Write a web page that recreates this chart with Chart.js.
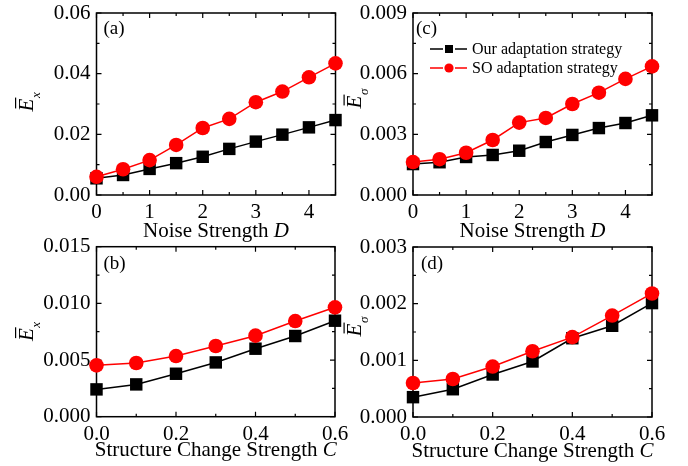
<!DOCTYPE html>
<html>
<head>
<meta charset="utf-8">
<title>Adaptation error vs. noise and structure change</title>
<script src="https://cdn.jsdelivr.net/npm/chart.js@4/dist/chart.umd.min.js"></script>
<style>
  body { margin: 0; background: #fff; }
  #figure { position: relative; width: 688px; height: 466px; overflow: hidden; background: #fff; }
  #figure canvas { position: absolute; }
</style>
</head>
<body>
<div id="figure">
  <canvas id="panelA"></canvas>
  <canvas id="panelC"></canvas>
  <canvas id="panelB"></canvas>
  <canvas id="panelD"></canvas>
</div>
<script>
const SERIF = '"Liberation Serif", "Times New Roman", serif';

// x values
const noiseD = [0, 0.5, 1, 1.5, 2, 2.5, 3, 3.5, 4, 4.5];
const changeC = [0, 0.1, 0.2, 0.3, 0.4, 0.5, 0.6];

// mean error E_x and E_sigma vs noise strength D
const exOursD = [0.0055, 0.0066, 0.0086, 0.0105, 0.0126, 0.0152, 0.0176, 0.0199, 0.0223, 0.0247];
const exSoD   = [0.0060, 0.0085, 0.0115, 0.0165, 0.0221, 0.0251, 0.0306, 0.0341, 0.0388, 0.0434];
const esOursD = [0.00153, 0.00162, 0.00188, 0.00198, 0.00219, 0.00262, 0.00297, 0.00331, 0.00356, 0.00394];
const esSoD   = [0.00163, 0.00177, 0.00209, 0.00272, 0.00358, 0.00381, 0.00450, 0.00506, 0.00574, 0.00636];

// mean error E_x and E_sigma vs structure change strength C
const exOursC = [0.00241, 0.00285, 0.00379, 0.00479, 0.00600, 0.00712, 0.00847];
const exSoC   = [0.00453, 0.00474, 0.00535, 0.00624, 0.00715, 0.00844, 0.00965];
const esOursC = [0.00035, 0.00049, 0.00075, 0.00098, 0.00139, 0.00161, 0.00201];
const esSoC   = [0.00060, 0.00067, 0.00089, 0.00116, 0.00141, 0.00179, 0.00218];

// tick values and their labels
const noiseTicks = [0, 1, 2, 3, 4];
const noiseTickLabels = ['0', '1', '2', '3', '4'];
const changeTicks = [0, 0.2, 0.4, 0.6];
const changeTickLabels = ['0.0', '0.2', '0.4', '0.6'];
const exTicksD = [0, 0.02, 0.04, 0.06];
const exTickLabelsD = ['0.00', '0.02', '0.04', '0.06'];
const esTicksD = [0, 0.003, 0.006, 0.009];
const esTickLabelsD = ['0.000', '0.003', '0.006', '0.009'];
const exTicksC = [0, 0.005, 0.010, 0.015];
const exTickLabelsC = ['0.000', '0.005', '0.010', '0.015'];
const esTicksC = [0, 0.001, 0.002, 0.003];
const esTickLabelsC = ['0.000', '0.001', '0.002', '0.003'];

const seriesNames = ['Our adaptation strategy', 'SO adaptation strategy'];
const seriesColors = ['#000000', '#ff0000'];

// minor ticks sit halfway between majors (and one past the last major if it fits)
function minorTicks(majors, max) {
  const out = [];
  for (let i = 0; i < majors.length; i++) {
    const step = i < majors.length - 1 ? majors[i + 1] - majors[i] : majors[i] - majors[i - 1];
    const m = majors[i] + step / 2;
    if (m <= max + 1e-12) out.push(m);
  }
  return out;
}

function drawFrame(chart, opts) {
  const { ctx, chartArea: a } = chart;
  const xs = chart.scales.x, ys = chart.scales.y;
  ctx.save();
  ctx.strokeStyle = '#000';
  ctx.lineWidth = 1.5;
  ctx.strokeRect(a.left, a.top, a.right - a.left, a.bottom - a.top);
  ctx.lineWidth = 1.2;
  ctx.beginPath();
  const tickX = (v, len) => {
    const px = xs.getPixelForValue(v);
    ctx.moveTo(px, a.bottom); ctx.lineTo(px, a.bottom - len);
    ctx.moveTo(px, a.top); ctx.lineTo(px, a.top + len);
  };
  const tickY = (v, len) => {
    const py = ys.getPixelForValue(v);
    ctx.moveTo(a.left, py); ctx.lineTo(a.left + len, py);
    ctx.moveTo(a.right, py); ctx.lineTo(a.right - len, py);
  };
  opts.xTicks.forEach(v => tickX(v, 5));
  minorTicks(opts.xTicks, opts.xMax).forEach(v => tickX(v, 3));
  opts.yTicks.forEach(v => tickY(v, 5));
  minorTicks(opts.yTicks, opts.yMax).forEach(v => tickY(v, 3));
  ctx.stroke();
  ctx.restore();
}

// italic E with an overbar and a subscript, rotated along the y axis
function drawYTitle(ctx, cx, cy, sub) {
  ctx.save();
  ctx.translate(cx, cy);
  ctx.rotate(-Math.PI / 2);
  ctx.fillStyle = '#000';
  ctx.textBaseline = 'alphabetic';
  ctx.textAlign = 'left';
  ctx.font = 'italic 21px ' + SERIF;
  const eW = ctx.measureText('E').width;
  const x0 = -eW / 2 - 1;
  ctx.fillText('E', x0, 0);
  ctx.fillRect(x0 + 3, -17.5, eW - 2, 1.2);
  ctx.font = 'italic 13px ' + SERIF;
  ctx.fillText(sub, x0 + eW + 0.5, 7);
  ctx.restore();
}

function drawXTitle(ctx, cx, baseline, word, symbol) {
  ctx.save();
  ctx.fillStyle = '#000';
  ctx.textBaseline = 'alphabetic';
  ctx.textAlign = 'left';
  ctx.font = '21px ' + SERIF;
  const w1 = ctx.measureText(word).width;
  ctx.font = 'italic 21px ' + SERIF;
  const w2 = ctx.measureText(symbol).width;
  const x0 = cx - (w1 + w2) / 2;
  ctx.font = '21px ' + SERIF;
  ctx.fillText(word, x0, baseline);
  ctx.font = 'italic 21px ' + SERIF;
  ctx.fillText(symbol, x0 + w1, baseline);
  ctx.restore();
}

function drawLegend(ctx, left, top) {
  ctx.save();
  ctx.font = '16px ' + SERIF;
  ctx.textBaseline = 'middle';
  ctx.textAlign = 'left';
  seriesNames.forEach((name, i) => {
    const y = top + i * 19;
    const c = seriesColors[i];
    ctx.strokeStyle = c;
    ctx.fillStyle = c;
    ctx.lineWidth = 1.5;
    ctx.beginPath();
    ctx.moveTo(left, y); ctx.lineTo(left + 13, y);
    ctx.moveTo(left + 25, y); ctx.lineTo(left + 37, y);
    ctx.stroke();
    if (i === 0) {
      ctx.fillRect(left + 15, y - 4, 8, 8);
    } else {
      ctx.beginPath();
      ctx.arc(left + 19, y, 4.6, 0, Math.PI * 2);
      ctx.fill();
    }
    ctx.fillStyle = '#000';
    ctx.fillText(name, left + 42, y + 1);
  });
  ctx.restore();
}

function makePanel(p) {
  const canvas = document.getElementById(p.id);
  canvas.width = p.box.width;
  canvas.height = p.box.height;
  canvas.style.left = p.box.left + 'px';
  canvas.style.top = p.box.top + 'px';

  const overlay = {
    id: 'overlay_' + p.id,
    beforeDatasetsDraw(chart) {
      drawFrame(chart, p);
    },
    afterDraw(chart) {
      const ctx = chart.ctx, a = chart.chartArea;
      ctx.save();
      ctx.fillStyle = '#000';
      ctx.font = '19px ' + SERIF;
      ctx.textBaseline = 'alphabetic';
      ctx.fillText(p.label, a.left + p.labelDx, a.top + p.labelDy);
      ctx.restore();
      drawYTitle(ctx, a.left - p.yTitleGap, (a.top + a.bottom) / 2 + p.yTitleDy, p.ySub);
      drawXTitle(ctx, (a.left + a.right) / 2, a.bottom + p.xTitleGap, p.xWord, p.xSymbol);
      if (p.legend) drawLegend(ctx, a.left + 17, a.top + 36);
    }
  };

  const makeSet = (i, values) => ({
    label: seriesNames[i],
    data: p.xs.map((x, k) => ({ x, y: values[k] })),
    borderColor: seriesColors[i],
    backgroundColor: seriesColors[i],
    borderWidth: 1.5,
    pointStyle: i === 0 ? 'rect' : 'circle',
    pointRadius: i === 0 ? 8.8 : 7.3,
    pointBorderWidth: 0,
    pointHoverRadius: i === 0 ? 8.8 : 7.3,
    tension: 0,
    clip: false,
    order: i === 0 ? 1 : 0
  });

  const tickFont = { family: SERIF, size: 21 };

  return new Chart(canvas, {
    type: 'line',
    data: { datasets: [makeSet(0, p.ours), makeSet(1, p.so)] },
    options: {
      responsive: false,
      animation: false,
      events: [],
      layout: {
        padding: { left: 0, top: p.plot.top, right: p.box.width - p.plot.right, bottom: 0 }
      },
      plugins: { legend: { display: false }, tooltip: { enabled: false } },
      scales: {
        x: {
          type: 'linear',
          min: 0,
          max: p.xMax,
          grid: { display: false, drawTicks: false },
          border: { display: false },
          afterBuildTicks: s => { s.ticks = p.xTicks.map(v => ({ value: v })); },
          afterFit: s => {
            s.height = p.box.height - p.plot.bottom;
            s.paddingLeft = 0;
            s.paddingRight = 0;
          },
          ticks: {
            autoSkip: false,
            maxRotation: 0,
            padding: 5,
            color: '#000',
            font: tickFont,
            callback: (v, i) => p.xLabels[i]
          }
        },
        y: {
          type: 'linear',
          min: 0,
          max: p.yMax,
          grid: { display: false, drawTicks: false },
          border: { display: false },
          afterBuildTicks: s => { s.ticks = p.yTicks.map(v => ({ value: v })); },
          afterFit: s => {
            s.width = p.plot.left;
            s.paddingTop = 0;
            s.paddingBottom = 0;
          },
          ticks: {
            autoSkip: false,
            padding: 6,
            color: '#000',
            font: tickFont,
            callback: (v, i) => p.yLabels[i]
          }
        }
      }
    },
    plugins: [overlay]
  });
}

makePanel({
  id: 'panelA', label: '(a)', labelDx: 7, labelDy: 21,
  box: { left: 0, top: 0, width: 352, height: 248 },
  plot: { left: 96.5, top: 13, right: 335.5, bottom: 195 },
  xs: noiseD, ours: exOursD, so: exSoD,
  xMax: 4.5, xTicks: noiseTicks, xLabels: noiseTickLabels,
  yMax: 0.06, yTicks: exTicksD, yLabels: exTickLabelsD,
  ySub: 'x', yTitleGap: 64, yTitleDy: 0, xWord: 'Noise Strength ', xSymbol: 'D', xTitleGap: 42
});

makePanel({
  id: 'panelC', label: '(c)', labelDx: 3, labelDy: 21, legend: true,
  box: { left: 336, top: 0, width: 352, height: 248 },
  plot: { left: 77, top: 13, right: 316, bottom: 195 },
  xs: noiseD, ours: esOursD, so: esSoD,
  xMax: 4.5, xTicks: noiseTicks, xLabels: noiseTickLabels,
  yMax: 0.009, yTicks: esTicksD, yLabels: esTickLabelsD,
  ySub: 'σ', yTitleGap: 52, yTitleDy: -3, xWord: 'Noise Strength ', xSymbol: 'D', xTitleGap: 42
});

makePanel({
  id: 'panelB', label: '(b)', labelDx: 7, labelDy: 22,
  box: { left: 0, top: 232, width: 352, height: 234 },
  plot: { left: 96.5, top: 14.7, right: 335, bottom: 184.7 },
  xs: changeC, ours: exOursC, so: exSoC,
  xMax: 0.6, xTicks: changeTicks, xLabels: changeTickLabels,
  yMax: 0.015, yTicks: exTicksC, yLabels: exTickLabelsC,
  ySub: 'x', yTitleGap: 64, yTitleDy: 2, xWord: 'Structure Change Strength ', xSymbol: 'C', xTitleGap: 39
});

makePanel({
  id: 'panelD', label: '(d)', labelDx: 8, labelDy: 22,
  box: { left: 336, top: 232, width: 352, height: 234 },
  plot: { left: 77, top: 15, right: 316, bottom: 185 },
  xs: changeC, ours: esOursC, so: esSoC,
  xMax: 0.6, xTicks: changeTicks, xLabels: changeTickLabels,
  yMax: 0.003, yTicks: esTicksC, yLabels: esTickLabelsC,
  ySub: 'σ', yTitleGap: 52, yTitleDy: -3, xWord: 'Structure Change Strength ', xSymbol: 'C', xTitleGap: 40
});
</script>
</body>
</html>
